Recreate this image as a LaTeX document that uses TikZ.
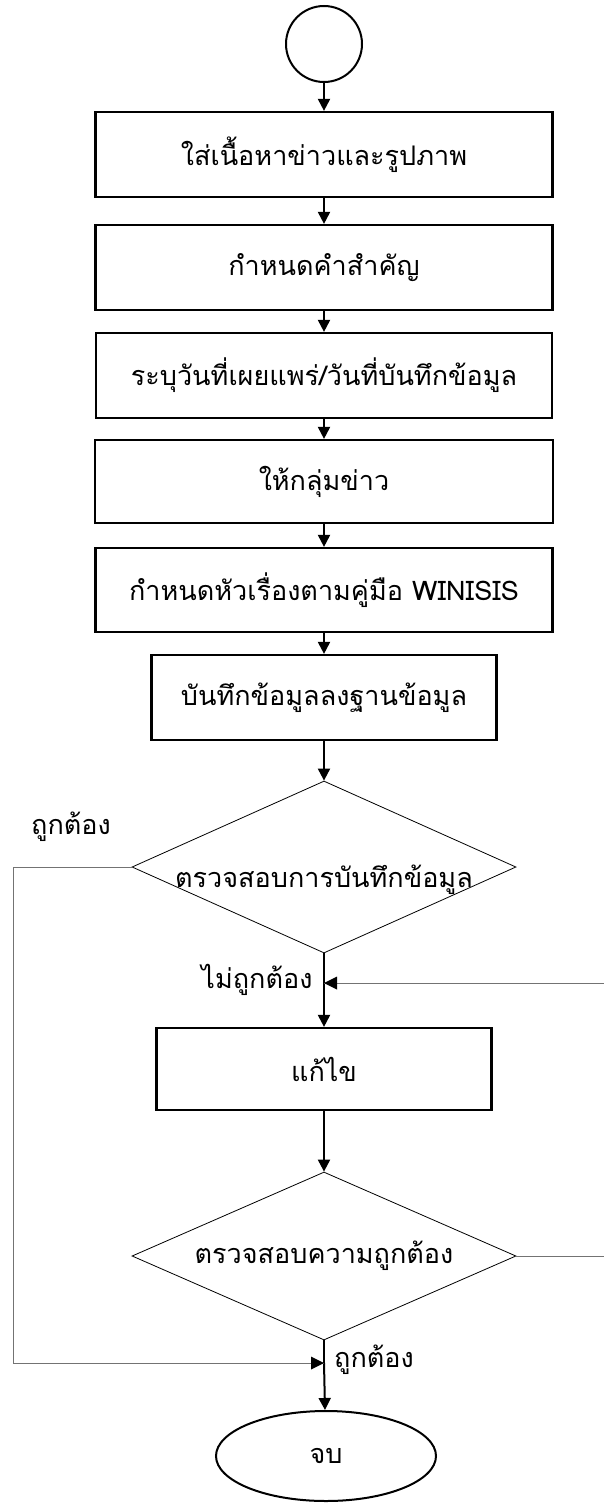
\documentclass[tikz,border=0pt]{standalone}
\usepackage{fontspec}
\setmainfont[Script=Thai]{Loma}
\usetikzlibrary{shapes.geometric,arrows.meta}
\begin{document}
\begin{tikzpicture}[x=1pt,y=-1pt,
  stepbox/.style={draw,line width=2.2pt,minimum height=85pt,inner sep=0pt,font=\fontsize{27}{30}\selectfont},
  dia/.style={draw,diamond,line width=0.8pt,inner sep=0pt,minimum width=384pt},
  lbl/.style={font=\fontsize{27}{30}\selectfont,inner sep=0pt},
  arr/.style={line width=2pt,-{Triangle[length=12pt,width=12pt]}},
  thin/.style={line width=0.9pt,draw=black!55},
  thinarr/.style={line width=0.9pt,draw=black!55,-{Triangle[length=12pt,width=12pt,fill=black,color=black]}}]
\useasboundingbox (0,0) rectangle (603,1504);
\node[draw,circle,line width=2pt,minimum size=76pt,inner sep=0pt] (start) at (324,44) {};
\node[stepbox,minimum width=457pt] (b1) at (324,154.5) {ใส่เนื้อหาข่าวและรูปภาพ};
\node[stepbox,minimum width=457pt] (b2) at (324,267.5) {กำหนดคำสำคัญ};
\node[stepbox,minimum width=456pt] (b3) at (324,375.5) {ระบุวันที่เผยแพร่/วันที่บันทึกข้อมูล};
\node[stepbox,minimum width=458pt,minimum height=83pt] (b4) at (324,481.5) {ให้กลุ่มข่าว};
\node[stepbox,minimum width=457pt,minimum height=84pt] (b5) at (324,590) {กำหนดหัวเรื่องตามคู่มือ WINISIS};
\node[stepbox,minimum width=345pt] (b6) at (324,697.5) {บันทึกข้อมูลลงฐานข้อมูล};
\node[dia,minimum height=172pt] (d1) at (324,867) {};
\node[lbl] (d1t) at (324,880) {ตรวจสอบการบันทึกข้อมูล};
\node[stepbox,minimum width=335pt,minimum height=82pt] (b7) at (324,1069) {แก้ไข};
\node[dia,minimum height=168pt] (d2) at (324,1256) {};
\node[lbl] (d2t) at (324,1256) {ตรวจสอบความถูกต้อง};
\node[draw,ellipse,line width=2pt,minimum width=220pt,minimum height=90pt,inner sep=0pt,font=\fontsize{27}{30}\selectfont] (end) at (326,1456) {จบ};
\node[lbl] (yes1) at (71,827) {ถูกต้อง};
\node[lbl] (no1) at (257,980) {ไม่ถูกต้อง};
\node[lbl] (yes2) at (374,1360) {ถูกต้อง};
\coordinate (c1) at (13,867);
\coordinate (c2) at (13,1363);
\coordinate (j2) at (324,1363);
\coordinate (r1) at (606,1256);
\coordinate (r2) at (606,983);
\coordinate (j1) at (324,983);
\draw[arr] (start) -- (b1);
\draw[arr] (b1) -- (b2);
\draw[arr] (b2) -- (b3);
\draw[arr] (b3) -- (b4);
\draw[arr] (b4) -- (b5);
\draw[arr] (b5) -- (b6);
\draw[arr] (b6) -- (d1.north);
\draw[line width=2pt] (d1.south) -- (j1);
\draw[arr] (j1) -- (b7);
\draw[arr] (b7) -- (d2.north);
\draw[line width=2pt] (d2.south) -- (j2);
\draw[arr] (j2) -- (end);
\draw[thin] (d1.west) -- (c1) -- (c2) -- (j2);
\draw[thin] (d2.east) -- (r1) -- (r2) -- (j1);
\fill (j2) -- ++(-13,-6.5) -- ++(0,13) -- cycle;
\fill (j1) -- ++(13,-6.5) -- ++(0,13) -- cycle;
\end{tikzpicture}
\end{document}
